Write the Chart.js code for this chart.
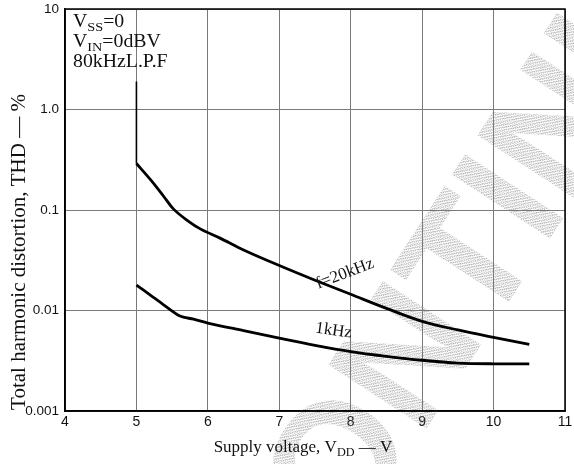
<!DOCTYPE html>
<html>
<head>
<meta charset="utf-8">
<script src="https://cdn.jsdelivr.net/npm/chart.js@4.4.1/dist/chart.umd.min.js"></script>
<style>
  html, body { margin: 0; padding: 0; background: #fff; }
  #wrap { width: 574px; height: 464px; position: relative; }
</style>
</head>
<body>
<div id="wrap"><canvas id="c" width="574" height="464"></canvas></div>
<script>
// ---- data ----
const xTickValues = [4, 5, 6, 7, 8, 9, 10, 11];
const yTickValues = [0.001, 0.01, 0.1, 1, 10];
const yTickLabels = ["0.001", "0.01", "0.1", "1.0", "10"];

const vdd20k = [5, 5.2, 5.38, 5.52, 5.71, 5.9, 6.17, 6.5, 7, 7.5, 8, 8.5, 9, 9.5, 10, 10.5];
const thd20k = [0.29, 0.199, 0.137, 0.102, 0.079, 0.0645, 0.0525, 0.040, 0.028, 0.020, 0.0145, 0.0105, 0.0078, 0.0064, 0.0054, 0.0046];

const vdd1k = [5, 5.19, 5.38, 5.61, 5.8, 6, 6.5, 7, 7.5, 8, 8.5, 9, 9.5, 10, 10.5];
const thd1k = [0.0179, 0.0143, 0.0114, 0.0088, 0.0082, 0.0075, 0.0063, 0.0053, 0.0045, 0.0039, 0.0035, 0.0032, 0.0030, 0.00295, 0.00295];

const markerX = [5, 5];
const markerY = [0.29, 1.9];

const curveLabels = [
  { text: "f=20kHz", x: 7.92, y: 0.0232, angle: -21 },
  { text: "1kHz", x: 7.76, y: 0.0063, angle: 8 }
];
const conditions = [
  [["V", ""], ["SS", "sub"], ["=0", ""]],
  [["V", ""], ["IN", "sub"], ["=0dBV", ""]],
  [["80kHzL.P.F", ""]]
];
const watermark = "DISCONTINUED";

const pts = (xs, ys) => xs.map((x, i) => ({ x: x, y: ys[i] }));

const SERIF = '"Liberation Serif", "DejaVu Serif", serif';
const SANS = '"Liberation Sans", Arial, sans-serif';

function drawRich(ctx, parts, x, y, size) {
  let cx = x;
  parts.forEach(([t, kind]) => {
    if (kind === "sub") {
      ctx.font = (size * 0.72) + "px " + SERIF;
      ctx.fillText(t, cx, y + size * 0.22);
    } else {
      ctx.font = size + "px " + SERIF;
      ctx.fillText(t, cx, y);
    }
    cx += ctx.measureText(t).width;
  });
  return cx - x;
}
function measureRich(ctx, parts, size) {
  let w = 0;
  parts.forEach(([t, kind]) => {
    ctx.font = (kind === "sub" ? size * 0.72 : size) + "px " + SERIF;
    w += ctx.measureText(t).width;
  });
  return w;
}

function hatchPattern(ctx) {
  const c = document.createElement("canvas");
  c.width = 4; c.height = 4;
  const g = c.getContext("2d");
  g.fillStyle = "rgba(120,120,120,0.55)";
  g.fillRect(0, 0, 1, 1); g.fillRect(2, 1, 1, 1); g.fillRect(1, 2, 1, 1); g.fillRect(3, 3, 1, 1);
  g.fillRect(1, 0, 1, 1); g.fillRect(3, 2, 1, 1);
  return ctx.createPattern(c, "repeat");
}

const decorPlugin = {
  id: "decor",
  beforeDatasetsDraw(chart) {
    const ctx = chart.ctx;
    ctx.save();
    ctx.font = "bold 170px " + SANS;
    const pre = ctx.measureText("DISC").width + ctx.measureText("O").width / 2;
    ctx.translate(345, 468);
    ctx.rotate(-57 * Math.PI / 180);
    ctx.textBaseline = "middle";
    ctx.textAlign = "left";
    ctx.fillStyle = hatchPattern(ctx);
    ctx.fillText(watermark, -pre, 0);
    ctx.restore();
  },
  afterDatasetsDraw(chart) {
    const ctx = chart.ctx;
    const a = chart.chartArea;
    const xs = chart.scales.x, ys = chart.scales.y;
    ctx.save();
    ctx.strokeStyle = "#000";
    ctx.lineWidth = 1.5;
    ctx.strokeRect(a.left, a.top, a.right - a.left, a.bottom - a.top);

    ctx.fillStyle = "#111";
    ctx.textBaseline = "alphabetic";
    ctx.textAlign = "left";
    conditions.forEach((parts, i) => {
      ctx.save();
      ctx.translate(73, 27 + i * 20);
      ctx.scale(1.1, 1);
      drawRich(ctx, parts, 0, 0, 18);
      ctx.restore();
    });
    curveLabels.forEach(l => {
      ctx.save();
      ctx.translate(xs.getPixelForValue(l.x), ys.getPixelForValue(l.y));
      ctx.rotate(l.angle * Math.PI / 180);
      ctx.font = "17px " + SERIF;
      ctx.textAlign = "center";
      ctx.textBaseline = "middle";
      ctx.fillText(l.text, 0, 0);
      ctx.restore();
    });
    const xt = [["Supply voltage, V", ""], ["DD", "sub"], [" \u2014 V", ""]];
    const w = measureRich(ctx, xt, 17);
    drawRich(ctx, xt, 303 - w / 2, 452, 17);
    ctx.save();
    ctx.translate(25, 252);
    ctx.rotate(-Math.PI / 2);
    ctx.font = "21px " + SERIF;
    ctx.textAlign = "center";
    ctx.fillText("Total harmonic distortion, THD \u2014 %", 0, 0);
    ctx.restore();
    ctx.restore();
  }
};

const zeroPad = s => { s.paddingTop = 0; s.paddingBottom = 0; s.paddingLeft = 0; s.paddingRight = 0; };

new Chart(document.getElementById("c"), {
  type: "line",
  data: {
    datasets: [
      { label: "f=20kHz", data: pts(vdd20k, thd20k), borderColor: "#000", borderWidth: 2.8,
        pointRadius: 0, tension: 0.35, fill: false },
      { label: "1kHz", data: pts(vdd1k, thd1k), borderColor: "#000", borderWidth: 2.8,
        pointRadius: 0, tension: 0.3, fill: false },
      { label: "limit", data: pts(markerX, markerY), borderColor: "#000", borderWidth: 1.6,
        pointRadius: 0, fill: false }
    ]
  },
  options: {
    responsive: false,
    animation: false,
    devicePixelRatio: 1,
    layout: { padding: { top: 9, right: 9, left: 0, bottom: 0 } },
    plugins: { legend: { display: false }, tooltip: { enabled: false } },
    scales: {
      x: {
        type: "linear", min: 4, max: 11,
        afterBuildTicks: s => { s.ticks = xTickValues.map(v => ({ value: v })); },
        afterFit: s => { s.height = 53; zeroPad(s); },
        grid: { color: "#7a7a7a", lineWidth: 1, drawTicks: false },
        border: { color: "#000", width: 1.5 },
        ticks: { color: "#111", padding: 3, font: { family: SANS, size: 14 },
                 callback: v => String(v) }
      },
      y: {
        type: "logarithmic", min: 0.001, max: 10,
        afterBuildTicks: s => { s.ticks = yTickValues.map(v => ({ value: v })); },
        afterFit: s => { s.width = 65; zeroPad(s); },
        grid: { color: "#7a7a7a", lineWidth: 1, drawTicks: false },
        border: { color: "#000", width: 1.5 },
        ticks: { color: "#111", padding: 6, font: { family: SANS, size: 13.5 },
                 callback: (v) => {
                   const i = yTickValues.findIndex(t => Math.abs(Math.log10(t) - Math.log10(v)) < 1e-6);
                   return i >= 0 ? yTickLabels[i] : "";
                 } }
      }
    }
  },
  plugins: [decorPlugin]
});
</script>
</body>
</html>
